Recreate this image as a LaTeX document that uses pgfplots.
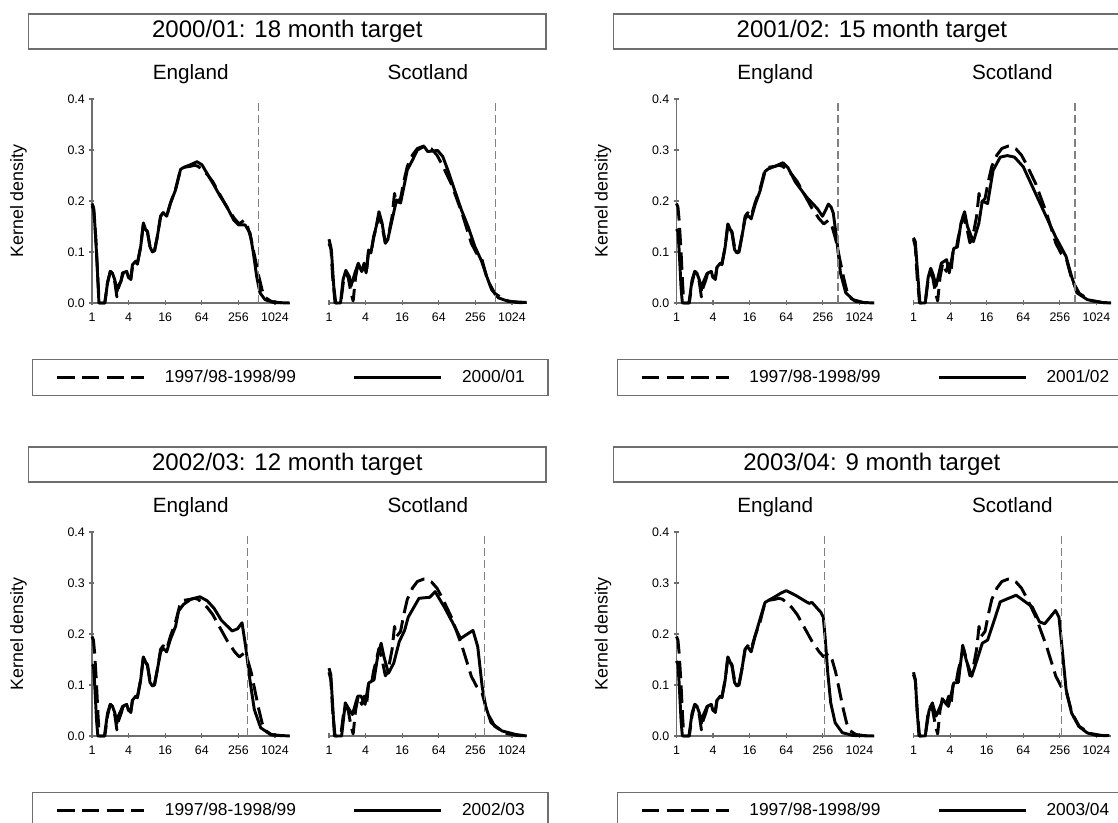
\documentclass[border=0pt]{standalone}
\usepackage{fontspec}
\setmainfont{Liberation Sans}
\usepackage{pgfplots}
\pgfplotsset{compat=1.18}
\usepackage{pgfplotstable}

\newcommand{\fs}[1]{\fontsize{#1}{#1}\selectfont}
\newcommand{\tk}[1]{{\fontsize{9.3}{9.3}\selectfont #1}}
\definecolor{axgray}{HTML}{6E6E6E}
\definecolor{refgray}{HTML}{808080}

% baseline 1997/98-1998/99, England (x = log2 of duration in days)
\pgfplotstableread{
L d
0 0.195
0.08 0.188
0.15 0.16
0.25 0.10
0.33 0.04
0.40 0.0
0.70 0.0
0.85 0.04
1.00 0.062
1.12 0.058
1.25 0.040
1.36 0.012
1.45 0.030
1.60 0.045
1.70 0.058
1.90 0.062
2.00 0.052
2.12 0.046
2.22 0.072
2.39 0.080
2.48 0.076
2.66 0.110
2.81 0.156
2.93 0.145
3.03 0.140
3.17 0.110
3.30 0.100
3.42 0.103
3.57 0.130
3.75 0.170
3.89 0.177
4.08 0.170
4.29 0.196
4.57 0.224
4.84 0.262
5.02 0.266
5.38 0.268
5.60 0.270
5.80 0.268
6.00 0.262
6.30 0.252
6.60 0.238
7.00 0.212
7.40 0.186
7.80 0.165
8.05 0.155
8.30 0.162
8.50 0.150
8.70 0.125
8.90 0.090
9.10 0.055
9.30 0.025
9.50 0.010
9.80 0.003
10.20 0.001
10.80 0.0
}\baseE

% baseline 1997/98-1998/99, Scotland
\pgfplotstableread{
L d
0 0.125
0.10 0.110
0.20 0.050
0.33 0.0
0.64 0.0
0.78 0.040
0.92 0.058
1.05 0.050
1.20 0.020
1.32 0.004
1.45 0.050
1.60 0.078
1.79 0.062
1.92 0.078
2.05 0.060
2.16 0.100
2.30 0.098
2.44 0.128
2.58 0.148
2.73 0.172
2.90 0.150
3.08 0.118
3.21 0.125
3.45 0.170
3.58 0.215
3.69 0.195
3.91 0.205
4.10 0.240
4.28 0.268
4.56 0.290
4.83 0.303
5.20 0.308
5.60 0.302
5.90 0.290
6.20 0.270
6.69 0.233
7.28 0.175
7.78 0.117
8.07 0.097
8.37 0.084
8.66 0.045
9.06 0.019
9.65 0.005
10.30 0.001
10.80 0.0
}\baseS

\pgfplotsset{
  noarrows/.style={
    axis line style={axgray, line width=0.9pt, -},
    every outer x axis line/.append style={-},
    every outer y axis line/.append style={-},
    every inner x axis line/.append style={-},
    every inner y axis line/.append style={-},
    x axis line style={-}, y axis line style={-},
  },
  kd/.style={scale only axis, width=148.2pt, height=153pt,
    xmin=0, xmax=10.8, ymin=0, ymax=0.4,
    xtick={0,2,4,6,8,10},
    xticklabels={\tk{1},\tk{4},\tk{16},\tk{64},\tk{256},\tk{1024}},
    tick align=outside, major tick length=3.75pt,
    tick style={axgray, line width=0.9pt},
    xticklabel style={yshift=-2pt},
    /pgf/number format/assume math mode=true,
    title style={at={(0.5,1)}, anchor=base, yshift=8.25pt, font=\fs{15.5}},
    clip=false,
    legend image code/.code={\draw[##1] (0pt,0pt) -- (65pt,0pt);},
  },
  eng/.style={kd, axis x line=bottom, axis y line=left, noarrows,
    ytick={0,0.1,0.2,0.3,0.4},
    yticklabels={\tk{0.0},\tk{0.1},\tk{0.2},\tk{0.3},\tk{0.4}},
    ylabel={Kernel density},
    ylabel style={at={(axis description cs:-0.3715,0.5)}, anchor=center, font=\fs{13.4}},
    title=England,
    legend cell align=left,
    legend style={at={(-0.3036,-0.2745)}, anchor=north west, draw=axgray, line width=1pt,
      fill=white, legend columns=2, inner xsep=17.4pt, inner ysep=8pt, font=\fs{13},
      nodes={inner sep=0pt},
      /tikz/every odd column/.append style={column sep=14.6pt},
      /tikz/every even column/.append style={column sep=42.75pt}},
  },
  sco/.style={kd, axis x line=bottom, axis y line=none, noarrows, title=Scotland},
  base/.style={black, line width=2.2pt, dash pattern=on 13pt off 5.5pt, line join=round},
  cur/.style={black, line width=2.2pt, line join=round},
  ref/.style={refgray, line width=1.1pt, dash pattern=on 6pt off 3pt},
}

\begin{document}
\begin{tikzpicture}
\useasboundingbox (0,0) rectangle (838.5pt,617.25pt);
\clip (0,0) rectangle (838.5pt,617.25pt);

% title boxes
\node[draw=axgray, line width=1pt, fill=white, minimum width=388pt, minimum height=26.25pt, inner sep=0pt, font=\fs{18}] at (215.5pt,593.6pt) {2000/01: 18 month target};
\node[draw=axgray, line width=1pt, fill=white, minimum width=388pt, minimum height=26.25pt, inner sep=0pt, font=\fs{18}] at (653.9pt,593.6pt) {2001/02: 15 month target};
\node[draw=axgray, line width=1pt, fill=white, minimum width=388pt, minimum height=26.25pt, inner sep=0pt, font=\fs{18}] at (215.5pt,268.9pt) {2002/03: 12 month target};
\node[draw=axgray, line width=1pt, fill=white, minimum width=388pt, minimum height=26.25pt, inner sep=0pt, font=\fs{18}] at (653.9pt,268.9pt) {2003/04: 9 month target};

% ===== Panel 1: 2000/01 =====
\begin{axis}[eng, at={(69pt,390pt)}, anchor=south west]
\addplot[base] table {\baseE};
\addlegendentry{1997/98-1998/99}
\addplot[cur] coordinates {(0,0.19)(0.1,0.183)(0.2,0.13)(0.3,0.06)(0.38,0)(0.7,0)(0.85,0.04)(1.0,0.062)(1.12,0.058)(1.25,0.045)(1.36,0.022)(1.45,0.035)(1.58,0.042)(1.67,0.059)(1.9,0.062)(1.99,0.05)(2.12,0.047)(2.21,0.075)(2.39,0.082)(2.48,0.078)(2.66,0.11)(2.81,0.157)(2.93,0.144)(3.03,0.14)(3.17,0.11)(3.30,0.10)(3.42,0.103)(3.57,0.13)(3.75,0.17)(3.89,0.177)(4.08,0.17)(4.29,0.196)(4.57,0.222)(4.84,0.262)(5.02,0.266)(5.38,0.271)(5.74,0.277)(6.01,0.271)(6.29,0.254)(6.65,0.232)(7.01,0.209)(7.37,0.189)(7.74,0.163)(8.01,0.153)(8.37,0.153)(8.64,0.137)(8.82,0.098)(9.0,0.052)(9.18,0.02)(9.46,0.0065)(9.91,0.001)(10.8,0)};
\addlegendentry{2000/01}
\addplot[ref, forget plot] coordinates {(9.098,0)(9.098,0.4)};
\end{axis}
\begin{axis}[sco, at={(246.75pt,390pt)}, anchor=south west]
\addplot[base] table {\baseS};
\addplot[cur] coordinates {(0,0.117)(0.13,0.104)(0.26,0.033)(0.37,0)(0.63,0)(0.77,0.046)(0.92,0.064)(1.11,0.052)(1.2,0.033)(1.42,0.059)(1.6,0.078)(1.79,0.062)(1.92,0.075)(2.03,0.059)(2.16,0.104)(2.29,0.098)(2.44,0.13)(2.58,0.15)(2.73,0.179)(2.9,0.157)(3.08,0.117)(3.21,0.124)(3.45,0.163)(3.69,0.202)(3.91,0.196)(4.06,0.222)(4.28,0.261)(4.56,0.28)(4.83,0.30)(5.2,0.307)(5.39,0.297)(5.94,0.299)(6.22,0.287)(6.49,0.261)(6.86,0.222)(7.23,0.183)(7.6,0.15)(7.97,0.111)(8.34,0.082)(8.62,0.052)(8.89,0.026)(9.26,0.01)(9.82,0.003)(10.8,0.001)};
\addplot[ref] coordinates {(9.098,0)(9.098,0.4)};
\end{axis}

% ===== Panel 2: 2001/02 =====
\begin{axis}[eng, at={(507.375pt,390pt)}, anchor=south west]
\addplot[base] table {\baseE};
\addlegendentry{1997/98-1998/99}
\addplot[cur] coordinates {(0,0.145)(0.08,0.14)(0.15,0.1)(0.25,0.03)(0.32,0)(0.68,0)(0.85,0.045)(1.0,0.062)(1.12,0.058)(1.25,0.045)(1.36,0.025)(1.45,0.04)(1.58,0.05)(1.67,0.058)(1.9,0.062)(1.99,0.05)(2.12,0.048)(2.21,0.07)(2.39,0.078)(2.48,0.075)(2.66,0.11)(2.81,0.155)(2.93,0.145)(3.03,0.138)(3.17,0.105)(3.30,0.098)(3.42,0.1)(3.57,0.13)(3.75,0.165)(3.89,0.172)(4.08,0.165)(4.29,0.192)(4.57,0.22)(4.84,0.258)(5.02,0.263)(5.38,0.268)(5.82,0.275)(6.1,0.265)(6.5,0.237)(7.1,0.208)(7.7,0.185)(7.98,0.17)(8.15,0.182)(8.3,0.194)(8.45,0.188)(8.57,0.176)(8.76,0.124)(8.96,0.059)(9.25,0.02)(9.65,0.0065)(10.2,0.001)(10.8,0)};
\addlegendentry{2001/02}
\addplot[ref, forget plot] coordinates {(8.833,0)(8.833,0.4)};
\end{axis}
\begin{axis}[sco, at={(685.125pt,390pt)}, anchor=south west]
\addplot[base] table {\baseS};
\addplot[cur] coordinates {(0,0.128)(0.1,0.12)(0.2,0.07)(0.35,0)(0.64,0)(0.8,0.05)(0.94,0.068)(1.08,0.055)(1.23,0.033)(1.52,0.078)(1.81,0.085)(1.95,0.059)(2.2,0.107)(2.4,0.11)(2.59,0.156)(2.79,0.179)(2.95,0.15)(3.27,0.12)(3.57,0.156)(3.76,0.2)(4.05,0.195)(4.35,0.26)(4.74,0.286)(5.13,0.289)(5.52,0.286)(6.0,0.267)(6.59,0.221)(7.17,0.176)(7.76,0.13)(8.34,0.091)(8.64,0.052)(8.93,0.02)(9.5,0.0065)(10.3,0.001)(10.8,0)};
\addplot[ref] coordinates {(8.833,0)(8.833,0.4)};
\end{axis}

% ===== Panel 3: 2002/03 =====
\begin{axis}[eng, at={(69pt,65.25pt)}, anchor=south west]
\addplot[base] table {\baseE};
\addlegendentry{1997/98-1998/99}
\addplot[cur] coordinates {(0,0.14)(0.08,0.138)(0.15,0.1)(0.25,0.03)(0.32,0)(0.68,0)(0.85,0.045)(1.0,0.062)(1.12,0.058)(1.25,0.045)(1.36,0.025)(1.45,0.04)(1.58,0.05)(1.67,0.058)(1.9,0.062)(1.99,0.05)(2.12,0.048)(2.21,0.07)(2.39,0.078)(2.48,0.075)(2.66,0.11)(2.81,0.155)(2.93,0.145)(3.03,0.138)(3.17,0.105)(3.30,0.098)(3.42,0.1)(3.57,0.13)(3.75,0.165)(3.89,0.172)(4.08,0.165)(4.29,0.19)(4.57,0.215)(4.73,0.245)(5.0,0.258)(5.4,0.268)(5.9,0.273)(6.3,0.265)(6.68,0.25)(7.07,0.227)(7.66,0.206)(7.95,0.21)(8.2,0.222)(8.4,0.175)(8.63,0.11)(8.87,0.052)(9.22,0.016)(9.8,0.002)(10.8,0)};
\addlegendentry{2002/03}
\addplot[ref, forget plot] coordinates {(8.51,0)(8.51,0.4)};
\end{axis}
\begin{axis}[sco, at={(246.75pt,65.25pt)}, anchor=south west]
\addplot[base] table {\baseS};
\addplot[cur] coordinates {(0,0.133)(0.1,0.12)(0.2,0.06)(0.3,0)(0.69,0)(0.89,0.065)(1.05,0.055)(1.28,0.042)(1.57,0.078)(1.75,0.078)(1.97,0.062)(2.17,0.104)(2.46,0.11)(2.66,0.156)(2.85,0.182)(3.0,0.156)(3.25,0.123)(3.54,0.143)(3.84,0.185)(4.13,0.207)(4.33,0.233)(4.92,0.27)(5.51,0.272)(5.8,0.283)(6.3,0.253)(6.79,0.22)(7.19,0.191)(7.48,0.198)(7.87,0.207)(8.13,0.175)(8.37,0.097)(8.56,0.058)(8.86,0.026)(9.45,0.01)(10.2,0.003)(10.8,0)};
\addplot[ref] coordinates {(8.51,0)(8.51,0.4)};
\end{axis}

% ===== Panel 4: 2003/04 =====
\begin{axis}[eng, at={(507.375pt,65.25pt)}, anchor=south west]
\addplot[base] table {\baseE};
\addlegendentry{1997/98-1998/99}
\addplot[cur] coordinates {(0,0.147)(0.08,0.14)(0.15,0.1)(0.25,0.03)(0.32,0)(0.68,0)(0.85,0.045)(1.0,0.062)(1.12,0.058)(1.25,0.045)(1.36,0.025)(1.45,0.04)(1.58,0.05)(1.67,0.058)(1.9,0.062)(1.99,0.05)(2.12,0.048)(2.21,0.07)(2.39,0.078)(2.48,0.075)(2.66,0.11)(2.81,0.155)(2.93,0.145)(3.03,0.138)(3.17,0.105)(3.30,0.098)(3.42,0.1)(3.57,0.13)(3.75,0.17)(3.89,0.175)(4.08,0.165)(4.29,0.195)(4.57,0.23)(4.84,0.262)(5.33,0.272)(5.7,0.28)(6.0,0.285)(6.5,0.276)(7.1,0.263)(7.25,0.26)(7.4,0.262)(7.7,0.25)(7.88,0.243)(8.02,0.233)(8.12,0.195)(8.27,0.123)(8.43,0.065)(8.67,0.026)(9.06,0.0065)(9.65,0.001)(10.8,0)};
\addlegendentry{2003/04}
\addplot[ref, forget plot] coordinates {(8.098,0)(8.098,0.4)};
\end{axis}
\begin{axis}[sco, at={(685.125pt,65.25pt)}, anchor=south west]
\addplot[base] table {\baseS};
\addplot[cur] coordinates {(0,0.12)(0.1,0.11)(0.2,0.05)(0.3,0)(0.64,0)(0.85,0.05)(1.03,0.065)(1.23,0.039)(1.62,0.071)(1.91,0.058)(2.2,0.104)(2.45,0.105)(2.69,0.178)(2.88,0.149)(3.18,0.117)(3.47,0.149)(3.76,0.182)(4.05,0.188)(4.35,0.22)(4.74,0.263)(5.13,0.269)(5.61,0.276)(6.0,0.266)(6.49,0.253)(6.88,0.224)(7.17,0.22)(7.47,0.233)(7.76,0.246)(7.95,0.233)(8.15,0.162)(8.34,0.091)(8.64,0.045)(9.03,0.019)(9.5,0.006)(10.0,0.001)(10.7,0.001)};
\addplot[ref] coordinates {(8.098,0)(8.098,0.4)};
\end{axis}
\end{tikzpicture}
\end{document}
